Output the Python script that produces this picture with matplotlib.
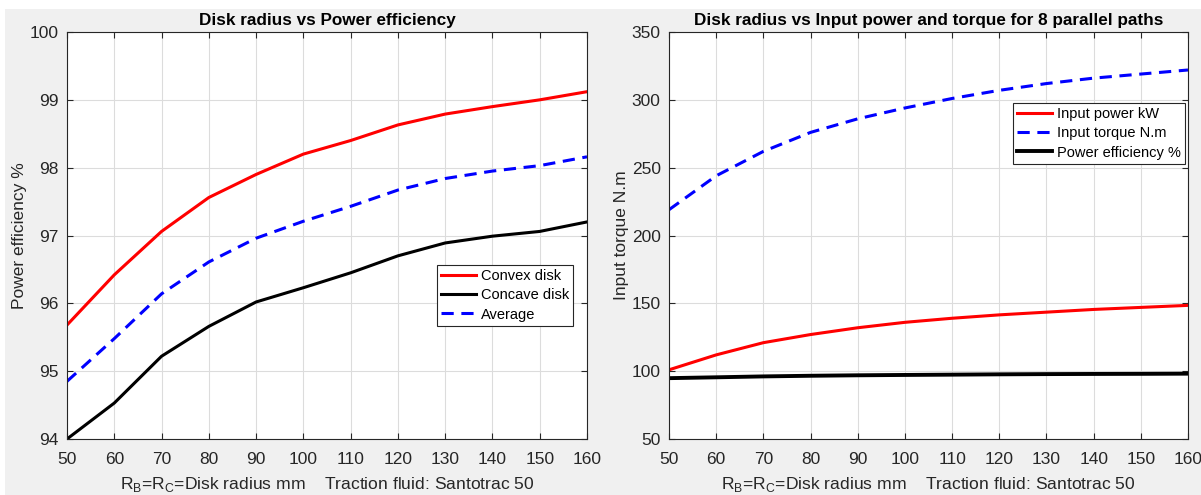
import matplotlib
matplotlib.use("Agg")
import matplotlib.pyplot as plt
from matplotlib.patches import Rectangle

plt.rcParams['font.family'] = ['Liberation Sans', 'DejaVu Sans']
plt.rcParams['mathtext.fontset'] = 'custom'
plt.rcParams['mathtext.rm'] = 'Liberation Sans'

# disk radius in mm
radius = [50, 60, 70, 80, 90, 100, 110, 120, 130, 140, 150, 160]

# power efficiency %, left chart
convex_eff = [95.68, 96.42, 97.06, 97.56, 97.90, 98.20, 98.40, 98.63, 98.79, 98.90, 99.00, 99.12]
concave_eff = [94.00, 94.53, 95.22, 95.66, 96.02, 96.23, 96.45, 96.70, 96.89, 96.99, 97.06, 97.20]
average_eff = [94.85, 95.48, 96.14, 96.61, 96.96, 97.21, 97.43, 97.67, 97.84, 97.95, 98.03, 98.16]

# right chart
input_power = [101, 112, 121, 127, 132, 136, 139, 141.5, 143.5, 145.5, 147, 148.5]
input_torque = [219, 244, 262, 276, 286, 294, 301, 307, 312, 316, 319, 322]

xlabel = r'R$_\mathregular{B}$=R$_\mathregular{C}$=Disk radius mm    Traction fluid: Santotrac 50'
txt_col = '#262626'
lw = 2.2
dash = (0, (4, 2.5))

fig = plt.figure(figsize=(12.01, 4.95), dpi=100)
fig.patch.set_facecolor('white')
# gray figure area like the MATLAB window
fig.patches.append(Rectangle((5 / 1201, 0), 1, 1 - 9 / 495, transform=fig.transFigure,
                             facecolor='#f0f0f0', edgecolor='none', zorder=-10))

ax1 = fig.add_axes([67 / 1201, 56 / 495, 520 / 1201, 407 / 495])
ax2 = fig.add_axes([669 / 1201, 56 / 495, 519 / 1201, 407 / 495])


def style(ax):
    ax.set_facecolor('white')
    ax.set_xlim(50, 160)
    ax.set_xticks(radius)
    ax.grid(True, color='#dcdcdc', linewidth=0.8)
    ax.set_axisbelow(True)
    ax.tick_params(direction='in', top=True, right=True, length=4, width=0.8,
                   labelsize=12.5, labelcolor=txt_col, color=txt_col)
    ax.tick_params(axis='x', pad=9)
    ax.tick_params(axis='y', pad=6)
    for s in ax.spines.values():
        s.set_color(txt_col)
        s.set_linewidth(0.8)
    ax.set_xlabel(xlabel, fontsize=12.6, color=txt_col, labelpad=6)


# left: efficiency
ax1.plot(radius, convex_eff, color='red', lw=lw, label='Convex disk')
ax1.plot(radius, concave_eff, color='black', lw=lw, label='Concave disk')
ax1.plot(radius, average_eff, color='blue', lw=lw, linestyle=dash, label='Average')
style(ax1)
ax1.set_ylim(94, 100)
ax1.set_yticks([94, 95, 96, 97, 98, 99, 100])
ax1.set_ylabel('Power efficiency %', fontsize=12.5, color=txt_col, labelpad=2)
ax1.set_title('Disk radius vs Power efficiency', fontsize=12.3, fontweight='bold', pad=5)
leg1 = ax1.legend(loc='upper left', bbox_to_anchor=(370 / 520, 174 / 407), fontsize=10.5,
                  fancybox=False, framealpha=1, edgecolor=txt_col, borderaxespad=0,
                  handlelength=2.4, handletextpad=0.3, borderpad=0.3, labelspacing=0.35)
leg1.get_frame().set_linewidth(0.8)

# right: power and torque
ax2.plot(radius, input_power, color='red', lw=lw, label='Input power kW')
ax2.plot(radius, input_torque, color='blue', lw=lw, linestyle=dash, label='Input torque N.m')
ax2.plot(radius, average_eff, color='black', lw=lw + 0.6, label='Power efficiency %')
style(ax2)
ax2.set_ylim(50, 350)
ax2.set_yticks(range(50, 351, 50))
ax2.set_ylabel('Input torque N.m', fontsize=12.5, color=txt_col, labelpad=2)
ax2.set_title('Disk radius vs Input power and torque for 8 parallel paths', fontsize=12.3,
              fontweight='bold', pad=5)
leg2 = ax2.legend(loc='upper right', bbox_to_anchor=(1 - 3 / 519, 1 - 71 / 407), fontsize=10.5,
                  fancybox=False, framealpha=1, edgecolor=txt_col, borderaxespad=0,
                  handlelength=2.4, handletextpad=0.3, borderpad=0.3, labelspacing=0.35)
leg2.get_frame().set_linewidth(0.8)

fig.savefig('out.png', dpi=100, facecolor=fig.get_facecolor())
